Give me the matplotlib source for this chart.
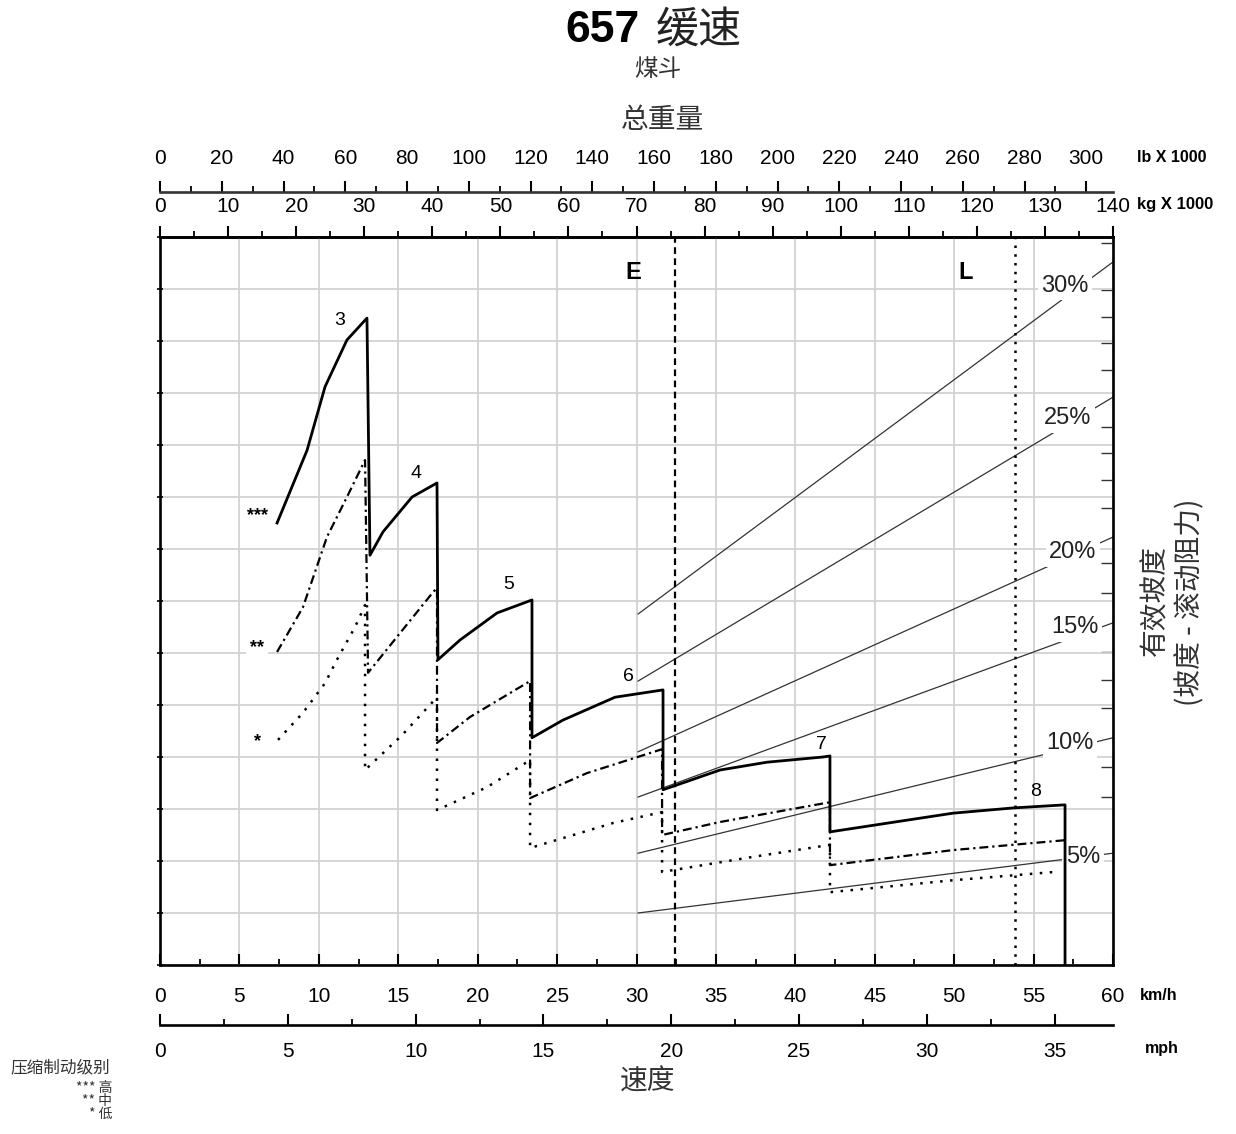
import numpy as np
import matplotlib.pyplot as plt

plt.rcParams['font.family'] = ['Liberation Sans', 'Noto Sans CJK SC', 'DejaVu Sans']
CJK = ['Noto Sans CJK SC', 'DejaVu Sans']

# retarding curves (speed km/h, rimpull in grid units)
high_kmh = [7.37, 9.26, 10.39, 11.77, 13.03, 13.22, 14.04, 15.87, 17.44, 17.50, 18.89, 21.22, 23.42,
            23.42, 25.37, 28.65, 31.67, 31.67, 35.26, 38.22, 41.74, 42.18, 42.18, 49.93, 53.70, 56.98, 56.98]
high_y = [8.50, 9.90, 11.12, 12.02, 12.44, 7.88, 8.33, 9.00, 9.27, 5.87, 6.25, 6.77, 7.02,
          4.37, 4.71, 5.15, 5.29, 3.37, 3.75, 3.90, 4.00, 4.02, 2.56, 2.92, 3.02, 3.08, 0.0]

mid_kmh = [7.37, 9.00, 10.51, 11.77, 12.91, 13.10, 14.92, 17.19, 17.44, 17.44, 19.52, 23.30, 23.30,
           26.88, 31.61, 31.61, 35.26, 42.18, 42.18, 49.93, 56.98]
mid_y = [6.02, 6.88, 8.23, 9.00, 9.71, 5.62, 6.31, 7.17, 7.25, 4.27, 4.77, 5.46, 3.21,
         3.69, 4.15, 2.50, 2.75, 3.13, 1.92, 2.21, 2.40]

low_kmh = [7.43, 9.00, 10.39, 11.14, 12.28, 12.91, 12.91, 15.24, 17.44, 17.44, 20.59, 23.30, 23.30,
           28.52, 31.61, 31.61, 37.34, 42.18, 42.18, 49.93, 56.35]
low_y = [4.33, 4.85, 5.42, 5.87, 6.50, 6.92, 3.75, 4.42, 5.15, 2.98, 3.42, 3.94, 2.25,
         2.73, 2.94, 1.79, 2.08, 2.31, 1.40, 1.63, 1.79]

gear_names = ['3', '4', '5', '6', '7', '8']
gear_lab_x = [11.33, 16.12, 21.97, 29.47, 41.62, 55.15]
gear_lab_y = [12.40, 9.46, 7.31, 5.54, 4.25, 3.33]

# effective grade lines
grade_names = ['5%', '10%', '15%', '20%', '25%', '30%']
grade_x0 = [30.1, 30.1, 30.1, 30.1, 30.1, 30.1]
grade_y0 = [1.00, 2.15, 3.23, 4.10, 5.46, 6.75]
grade_x1 = [60.0, 60.0, 60.0, 60.0, 60.0, 60.0]
grade_y1 = [2.15, 4.37, 6.58, 8.23, 10.92, 13.52]
grade_lab_x = [58.11, 57.29, 57.61, 57.48, 57.17, 56.98]
grade_lab_y = [2.08, 4.27, 6.50, 7.94, 10.52, 13.06]
grade_stubs = [13.88, 12.98, 12.46, 11.96, 11.44, 10.35, 9.85, 9.33, 8.79,
               7.73, 7.15, 6.02, 5.48, 4.94, 3.81, 3.23]

# empty / loaded gross weight (kg x 1000)
empty_t = 75.7
loaded_t = 125.6

kmh_ticks = np.arange(0, 61, 5)
kg_ticks = np.arange(0, 141, 10)
lb_ticks = np.arange(0, 301, 20)
mph_ticks = np.arange(0, 36, 5)


def kmh_to_kg(v):
    return np.asarray(v) * 140.0 / 60.0


def kg_to_kmh(w):
    return np.asarray(w) * 60.0 / 140.0


def kmh_to_klb(v):
    return kmh_to_kg(v) / 0.45359237


def klb_to_kmh(w):
    return kg_to_kmh(np.asarray(w) * 0.45359237)


def kmh_to_mph(v):
    return np.asarray(v) / 1.609344


def mph_to_kmh(v):
    return np.asarray(v) * 1.609344


W, H = 1236, 1134
fig = plt.figure(figsize=(W / 100, H / 100), dpi=100)
ax = fig.add_axes([160 / W, 1 - 965 / H, (1113 - 160) / W, (965 - 237) / H])


def fx(px):
    return px / W


def fy(py):
    return 1 - py / H


ax.set_xlim(0, 60)
ax.set_ylim(0, 14)
ax.set_xticks(kmh_ticks)
ax.set_xticks(kmh_ticks[:-1] + 2.5, minor=True)
ax.set_yticks(np.arange(0, 15, 1))
ax.set_yticklabels([])
ax.tick_params(axis='x', which='major', direction='in', length=8, width=1.5, pad=15.5, labelsize=15)
ax.tick_params(axis='x', which='minor', direction='in', length=4.5, width=1.3)
ax.tick_params(axis='y', direction='inout', length=5, width=1.2)
ax.tick_params(top=False, right=False)
ax.grid(True, which='major', color='#d2d2d2', lw=1.3)
ax.set_axisbelow(True)
for s in ax.spines.values():
    s.set_linewidth(1.9)

# kg scale on top spine
kg_ax = ax.secondary_xaxis('top', functions=(kmh_to_kg, kg_to_kmh))
kg_ax.set_xticks(kg_ticks)
kg_ax.set_xticks(kg_ticks[:-1] + 5, minor=True)
kg_ax.tick_params(which='major', direction='out', length=8, width=1.5, pad=7, labelsize=15)
kg_ax.tick_params(which='minor', direction='out', length=4.5, width=1.3)
kg_ax.spines['top'].set_linewidth(1.9)

# lb scale above it
lb_ax = ax.secondary_xaxis(1 + 45 / 728, functions=(kmh_to_klb, klb_to_kmh))
lb_ax.set_xticks(lb_ticks)
lb_ax.set_xticks(lb_ticks[:-1] + 10, minor=True)
lb_ax.tick_params(which='major', direction='out', length=8, width=1.5, pad=9, labelsize=15)
lb_ax.tick_params(which='minor', direction='out', length=4.5, width=1.3)
lb_ax.spines['top'].set_linewidth(1.9)
lb_ax.spines['top'].set_color('#333333')

# mph scale below
mph_ax = ax.secondary_xaxis(-60 / 728, functions=(kmh_to_mph, mph_to_kmh))
mph_ax.set_xticks(mph_ticks)
mph_ax.set_xticks(mph_ticks + 2.5, minor=True)
mph_ax.tick_params(which='major', direction='in', length=8, width=1.5, pad=12, labelsize=15)
mph_ax.tick_params(which='minor', direction='in', length=4.5, width=1.3)
mph_ax.spines['bottom'].set_linewidth(1.9)

# short grade stubs at right edge
r_ax = ax.secondary_yaxis('right')
r_ax.set_yticks(grade_stubs)
r_ax.set_yticklabels([])
r_ax.tick_params(direction='in', length=9, width=1.0, color='#333333')

# grade lines
for x0, y0, x1, y1 in zip(grade_x0, grade_y0, grade_x1, grade_y1):
    ax.plot([x0, x1], [y0, y1], color='#333333', lw=0.9, zorder=2)
for name, lx, ly in zip(grade_names, grade_lab_x, grade_lab_y):
    ax.text(lx, ly, name, fontsize=17, ha='center', va='center', color='#222222', zorder=4,
            bbox=dict(facecolor='white', edgecolor='none', pad=2.5))

# empty / loaded lines
ax.axvline(kg_to_kmh(empty_t), color='black', lw=1.6, ls=(0, (3, 2)), zorder=3)
ax.axvline(kg_to_kmh(loaded_t), color='black', lw=1.8, ls=(0, (1, 2.5)), zorder=3)
ax.text(29.78, 13.31, 'E', fontsize=17, fontweight='bold', ha='center', va='center')
ax.text(50.75, 13.31, 'L', fontsize=17, fontweight='bold', ha='center', va='center')

# retarding curves
ax.plot(high_kmh, high_y, color='black', lw=2.0, zorder=5)
ax.plot(mid_kmh, mid_y, color='black', lw=1.6, ls=(0, (4, 1.8, 1, 1.8)), zorder=5)
ax.plot(low_kmh, low_y, color='black', lw=1.8, ls=(0, (1, 3)), zorder=5)

for name, gx, gy in zip(gear_names, gear_lab_x, gear_lab_y):
    ax.text(gx, gy, name, fontsize=14, ha='center', va='center', zorder=6)

for stars, sy in zip(['***', '**', '*'], [8.65, 6.10, 4.29]):
    ax.text(6.11, sy, stars, fontsize=13, fontweight='bold', ha='center', va='center', zorder=6,
            bbox=dict(facecolor='white', edgecolor='none', pad=3))

# unit labels
fig.text(fx(1137), fy(157), 'lb X 1000', fontsize=11.5, fontweight='bold', ha='left', va='center')
fig.text(fx(1137), fy(205), 'kg X 1000', fontsize=12, fontweight='bold', ha='left', va='center')
fig.text(fx(1140), fy(996), 'km/h', fontsize=11.5, fontweight='bold', ha='left', va='center')
fig.text(fx(1145), fy(1048), 'mph', fontsize=11.5, fontweight='bold', ha='left', va='center')

# titles
fig.text(fx(640), fy(31), '657', fontsize=32, fontweight='bold', ha='right', va='center')
fig.text(fx(656), fy(31), '缓速', fontsize=31, ha='left', va='center', family=CJK, color='#222222')
fig.text(fx(658), fy(70), '煤斗', fontsize=17, ha='center', va='center', family=CJK, color='#333333')
fig.text(fx(662), fy(120), '总重量', fontsize=20, ha='center', va='center', family=CJK, color='#333333')
fig.text(fx(648), fy(1082), '速度', fontsize=20, ha='center', va='center', family=CJK, color='#333333')
fig.text(fx(1155), fy(600), '有效坡度', fontsize=20, rotation=90, ha='center', va='center',
         family=CJK, color='#333333')
fig.text(fx(1190), fy(602), '(坡度 - 滚动阻力)', fontsize=20, rotation=90, ha='center', va='center',
         family=CJK, color='#333333')

# brake level key
fig.text(fx(10), fy(1068), '压缩制动级别', fontsize=12, ha='left', va='center', family=CJK, color='#333333')
for txt, ky in zip(['*** 高', '** 中', '* 低'], [1088, 1101, 1114]):
    fig.text(fx(112), fy(ky), txt, fontsize=10, ha='right', va='center', family=CJK, color='#333333')

fig.savefig('out.png', dpi=100)
